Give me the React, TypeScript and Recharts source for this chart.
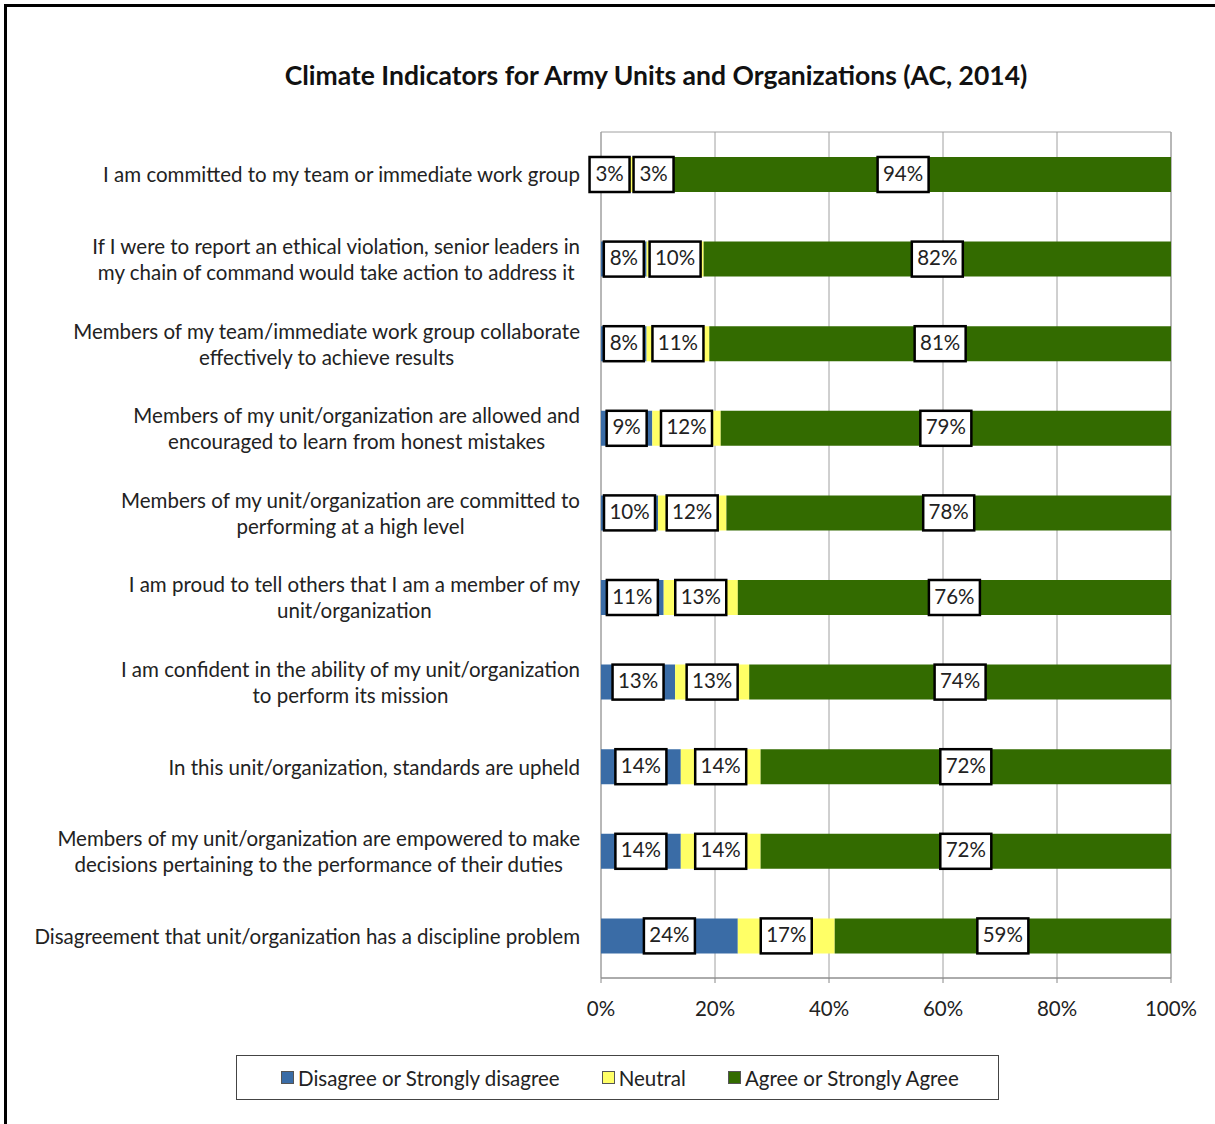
import React from "react";
import { BarChart, Bar, XAxis, YAxis, CartesianGrid, LabelList, ReferenceArea } from "recharts";

const categories: string[][] = [
  ["I am committed to my team or immediate work group"],
  ["If I were to report an ethical violation, senior leaders in", "my chain of command would take action to address it"],
  ["Members of my team/immediate work group collaborate", "effectively to achieve results"],
  ["Members of my unit/organization are allowed and", "encouraged to learn from honest mistakes"],
  ["Members of my unit/organization are committed to", "performing at a high level"],
  ["I am proud to tell others that I am a member of my", "unit/organization"],
  ["I am confident in the ability of my unit/organization", "to perform its mission"],
  ["In this unit/organization, standards are upheld"],
  ["Members of my unit/organization are empowered to make", "decisions pertaining to the performance of their duties"],
  ["Disagreement that unit/organization has a discipline problem"],
];
const disagree = [3, 8, 8, 9, 10, 11, 13, 14, 14, 24];
const neutral = [3, 10, 11, 12, 12, 13, 13, 14, 14, 17];
const agree = [94, 82, 81, 79, 78, 76, 74, 72, 72, 59];
const xTicks = [0, 20, 40, 60, 80, 100];

const data = categories.map((lines, i) => ({
  name: lines.join(" "),
  lines,
  disagree: disagree[i],
  neutral: neutral[i],
  agree: agree[i],
}));

const FONT = "Lato, 'Liberation Sans', sans-serif";
const FS = 20.5;
const BLUE = "#3A6CA6";
const YELLOW = "#FFFF66";
const GREEN = "#336B00";
const BAR = 35;

const boxWidth = (text: string) => 18 + text.length * 11;

function drawBox(cx: number, y: number, h: number, text: string) {
  const w = boxWidth(text);
  return (
    <g>
      <rect x={cx - w / 2} y={y} width={w} height={h} fill="#fff" stroke="#000" strokeWidth={2.5} />
      <text x={cx} y={y + h / 2 + 1} textAnchor="middle" dominantBaseline="middle" fontFamily={FONT} fontSize={FS} fill="#222">
        {text}
      </text>
    </g>
  );
}

function CenterLabel(props: any) {
  const { x, y, width, height, value } = props;
  return drawBox(x + width / 2, y, height, `${value}%`);
}

// neutral label: centred, but pushed right when it would run into the disagree label
function NeutralLabel(props: any) {
  const { x, y, width, height, value, index } = props;
  const pxPerUnit = width / value;
  const d = disagree[index];
  const dRight = x - (d * pxPerUnit) / 2 + boxWidth(`${d}%`) / 2;
  const text = `${value}%`;
  let cx = x + width / 2;
  const left = cx - boxWidth(text) / 2;
  if (left < dRight + 4) cx = dRight + 4 + boxWidth(text) / 2;
  return drawBox(cx, y, height, text);
}

function CategoryTick(props: any) {
  const { y, payload, index } = props;
  const lines = categories[index] ?? [payload.value];
  return (
    <foreignObject x={0} y={y - 40} width={580} height={80}>
      <div
        style={{
          height: "100%",
          display: "flex",
          alignItems: "center",
          justifyContent: "flex-end",
          fontFamily: FONT,
          fontSize: FS,
          lineHeight: "26px",
          color: "#222",
        }}
      >
        <div style={{ textAlign: "center", whiteSpace: "nowrap" }}>
          {lines.map((l: string, i: number) => (
            <div key={i}>{l}</div>
          ))}
        </div>
      </div>
    </foreignObject>
  );
}

const legendItems = [
  { label: "Disagree or Strongly disagree", color: BLUE },
  { label: "Neutral", color: YELLOW },
  { label: "Agree or Strongly Agree", color: GREEN },
];

function LegendBox() {
  return (
    <div
      style={{
        position: "absolute",
        left: 236,
        top: 1055,
        width: 763,
        height: 45,
        boxSizing: "border-box",
        border: "1px solid #444",
        display: "flex",
        alignItems: "center",
        paddingLeft: 44,
        fontFamily: FONT,
        fontSize: FS,
        color: "#222",
      }}
    >
      {legendItems.map((it, i) => (
        <div key={i} style={{ display: "flex", alignItems: "center", marginRight: i < 2 ? 42 : 0 }}>
          <span
            style={{
              display: "inline-block",
              width: 11,
              height: 11,
              background: it.color,
              border: "1px solid #555",
              marginRight: 4,
            }}
          />
          <span>{it.label}</span>
        </div>
      ))}
    </div>
  );
}

export default function App() {
  return (
    <div style={{ position: "absolute", left: 0, top: 0, width: 1215, height: 1124, background: "#fff", overflow: "hidden" }}>
      <div
        style={{
          position: "absolute",
          left: 4,
          top: 4,
          width: 1300,
          height: 1300,
          borderTop: "3px solid #000",
          borderLeft: "3px solid #000",
        }}
      />
      <div
        style={{
          position: "absolute",
          left: 156,
          width: 1000,
          top: 59,
          textAlign: "center",
          fontFamily: FONT,
          fontWeight: 700,
          fontSize: 26.5,
          color: "#111",
        }}
      >
        Climate Indicators for Army Units and Organizations (AC, 2014)
      </div>
      <div style={{ position: "absolute", left: 0, top: 0 }}>
        <BarChart
          width={1215}
          height={1124}
          data={data}
          layout="vertical"
          margin={{ top: 132, right: 44, bottom: 106, left: 11 }}
          barSize={BAR}
        >
          <CartesianGrid horizontal={false} stroke="#A0A0A0" />
          <ReferenceArea x1={0} x2={100} fill="none" stroke="#A0A0A0" strokeWidth={1} />
          <XAxis
            type="number"
            domain={[0, 100]}
            ticks={xTicks}
            tickFormatter={(v: number) => `${v}%`}
            height={40}
            axisLine={{ stroke: "#888" }}
            tickLine={{ stroke: "#888" }}
            tickSize={5}
            tickMargin={18}
            tick={{ fontFamily: FONT, fontSize: FS, fill: "#222" }}
            interval={0}
          />
          <YAxis type="category" dataKey="name" width={590} axisLine={false} tickLine={false} tick={<CategoryTick />} interval={0} />
          <Bar dataKey="disagree" name="Disagree or Strongly disagree" stackId="a" fill={BLUE} isAnimationActive={false}>
            <LabelList dataKey="disagree" content={<CenterLabel />} />
          </Bar>
          <Bar dataKey="neutral" name="Neutral" stackId="a" fill={YELLOW} isAnimationActive={false}>
            <LabelList dataKey="neutral" content={<NeutralLabel />} />
          </Bar>
          <Bar dataKey="agree" name="Agree or Strongly Agree" stackId="a" fill={GREEN} isAnimationActive={false}>
            <LabelList dataKey="agree" content={<CenterLabel />} />
          </Bar>
        </BarChart>
      </div>
      <LegendBox />
    </div>
  );
}
